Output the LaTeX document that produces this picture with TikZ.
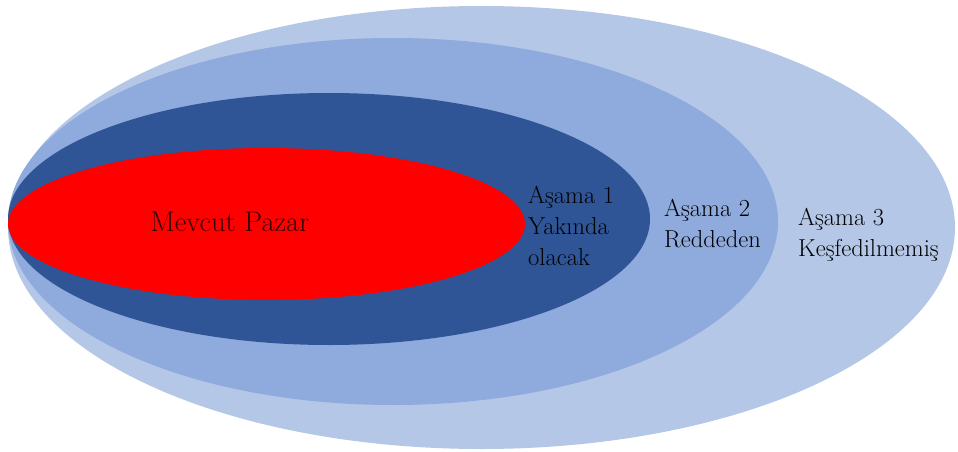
\documentclass[tikz,border=0pt]{standalone}
\usepackage{fontspec}
\definecolor{outerblue}{HTML}{B4C7E7}
\definecolor{midblue}{HTML}{8FAADC}
\definecolor{darkblue}{HTML}{2F5597}
\definecolor{marketred}{HTML}{FF0000}
\begin{document}
\begin{tikzpicture}[x=1pt,y=-1pt,
  stagetext/.style={anchor=west,align=left,inner sep=0pt,text=black,
    font=\fontsize{24.5}{31}\selectfont},
  markettext/.style={inner sep=0pt,text=black!80!red,
    font=\fontsize{28.5}{31}\selectfont}]
\useasboundingbox (0,0) rectangle (958,452);
% nested markets, all touching on the left
\fill[outerblue] (481.5,227.5) ellipse [x radius=473.5,y radius=221.5];
\fill[midblue] (393,221.5) ellipse [x radius=385,y radius=183.5];
\fill[darkblue] (329,219) ellipse [x radius=321,y radius=126];
\fill[marketred] (266.5,224) ellipse [x radius=258.5,y radius=76];
\node[markettext] (mevcut) at (230,222) {Mevcut Pazar};
\node[stagetext] (asama1) at (528,226) {Aşama 1\\Yakında\\olacak};
\node[stagetext] (asama2) at (664,224) {Aşama 2\\Reddeden};
\node[stagetext] (asama3) at (798,235) {Aşama 3\\Keşfedilmemiş};
\end{tikzpicture}
\end{document}
